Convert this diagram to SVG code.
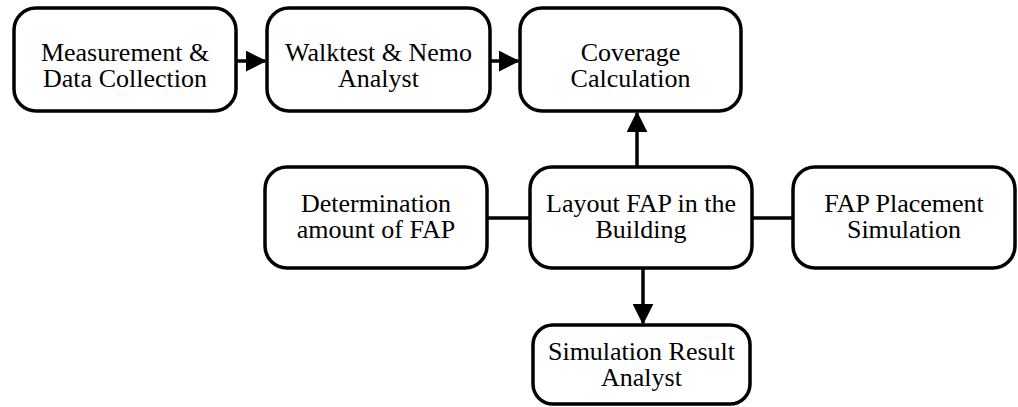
<svg xmlns="http://www.w3.org/2000/svg" width="1018" height="407" viewBox="0 0 1018 407">
<defs>
<marker id="ah" markerWidth="6" markerHeight="6" refX="5.5" refY="3" orient="auto" markerUnits="strokeWidth" viewBox="0 0 6 6">
<path d="M0,0 L6,3 L0,6 Z" fill="#000"/>
</marker>
</defs>
<g fill="#fff" stroke="#000" stroke-width="3.5">
<g id="n1"><rect x="14" y="8" width="222" height="103" rx="22"/>
<text x="125" y="61" font-family="Liberation Serif" font-size="26" text-anchor="middle" fill="#000" stroke="none">Measurement &amp;</text><text x="125" y="87" font-family="Liberation Serif" font-size="26" text-anchor="middle" fill="#000" stroke="none">Data Collection</text></g>
<g id="n2"><rect x="267" y="8" width="223" height="103" rx="22"/>
<text x="378.5" y="61" font-family="Liberation Serif" font-size="26" text-anchor="middle" fill="#000" stroke="none">Walktest &amp; Nemo</text><text x="378.5" y="87" font-family="Liberation Serif" font-size="26" text-anchor="middle" fill="#000" stroke="none">Analyst</text></g>
<g id="n3"><rect x="520" y="8" width="221" height="103" rx="22"/>
<text x="630.5" y="61" font-family="Liberation Serif" font-size="26" text-anchor="middle" fill="#000" stroke="none">Coverage</text><text x="630.5" y="87" font-family="Liberation Serif" font-size="26" text-anchor="middle" fill="#000" stroke="none">Calculation</text></g>
<g id="n4"><rect x="265" y="167" width="222" height="101" rx="22"/>
<text x="376" y="212" font-family="Liberation Serif" font-size="26" text-anchor="middle" fill="#000" stroke="none">Determination</text><text x="376" y="238" font-family="Liberation Serif" font-size="26" text-anchor="middle" fill="#000" stroke="none">amount of FAP</text></g>
<g id="n5"><rect x="530" y="167" width="222" height="101" rx="22"/>
<text x="641" y="212" font-family="Liberation Serif" font-size="26" text-anchor="middle" fill="#000" stroke="none">Layout FAP in the</text><text x="641" y="238" font-family="Liberation Serif" font-size="26" text-anchor="middle" fill="#000" stroke="none">Building</text></g>
<g id="n6"><rect x="793" y="167" width="222" height="101" rx="22"/>
<text x="904" y="212" font-family="Liberation Serif" font-size="26" text-anchor="middle" fill="#000" stroke="none">FAP Placement</text><text x="904" y="238" font-family="Liberation Serif" font-size="26" text-anchor="middle" fill="#000" stroke="none">Simulation</text></g>
<g id="n7"><rect x="533" y="325" width="217" height="79" rx="20"/>
<text x="641.5" y="360" font-family="Liberation Serif" font-size="26" text-anchor="middle" fill="#000" stroke="none">Simulation Result</text><text x="641.5" y="386" font-family="Liberation Serif" font-size="26" text-anchor="middle" fill="#000" stroke="none">Analyst</text></g>
</g>
<g id="connectors" stroke="#000" stroke-width="3.5" fill="none">
<line x1="236" y1="61" x2="265" y2="61" marker-end="url(#ah)"/>
<line x1="490" y1="61" x2="518" y2="61" marker-end="url(#ah)"/>
<line x1="637" y1="167" x2="637" y2="113" marker-end="url(#ah)"/>
<line x1="487" y1="218" x2="530" y2="218"/>
<line x1="752" y1="218" x2="793" y2="218"/>
<line x1="643" y1="268" x2="643" y2="323" marker-end="url(#ah)"/>
</g>
</svg>
